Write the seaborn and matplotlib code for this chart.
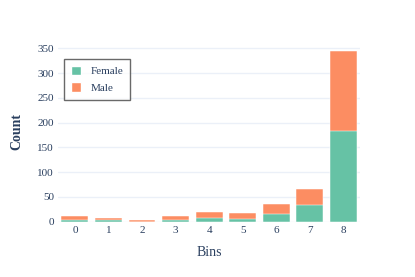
import matplotlib
matplotlib.use("Agg")
import matplotlib.pyplot as plt
import seaborn as sns
import pandas as pd
from matplotlib.patches import Patch

bins = ["0", "1", "2", "3", "4", "5", "6", "7", "8"]
female = [4, 3, 0, 4, 7, 6, 15, 34, 183]
male = [7, 5, 3, 8, 13, 11, 20, 32, 162]

total = [f + m for f, m in zip(female, male)]
df = pd.DataFrame({"Bins": bins, "Female": female, "Total": total})

sns.set_theme(style="white")
plt.rcParams["font.family"] = ["Liberation Serif", "DejaVu Serif"]

text_c = "#2a3f5f"
green = "#66c2a5"
orange = "#fc8d62"

fig = plt.figure(figsize=(4.15, 2.77), dpi=100)
ax = fig.add_axes([0.14, 0.2, 0.728, 0.649])

sns.barplot(data=df, x="Bins", y="Total", color=orange, saturation=1,
            width=0.8, edgecolor="white", linewidth=0.35, ax=ax, zorder=3)
sns.barplot(data=df, x="Bins", y="Female", color=green, saturation=1,
            width=0.8, edgecolor="white", linewidth=0.35, ax=ax, zorder=4)

ax.set_xlim(-0.5, 8.5)
ax.set_ylim(0, 363)
ax.set_yticks([0, 50, 100, 150, 200, 250, 300, 350])
ax.grid(axis="y", color="#ebf0f8", linewidth=1, zorder=0)
ax.set_axisbelow(True)
for s in ax.spines.values():
    s.set_visible(False)
ax.tick_params(axis="both", length=0, labelsize=8, colors=text_c, pad=3)

ax.set_xlabel("Bins", fontsize=10, color=text_c, labelpad=8)
ax.set_ylabel("Count", fontsize=10, color=text_c, fontweight="bold", labelpad=10)

handles = [Patch(facecolor=green, label="Female"), Patch(facecolor=orange, label="Male")]
leg = ax.legend(handles=handles, loc="upper left", bbox_to_anchor=(0.02, 0.905),
                fontsize=8, frameon=True, fancybox=False, handlelength=0.95,
                handleheight=0.95, borderpad=0.6, labelspacing=0.55, handletextpad=0.8,
                borderaxespad=0)
leg.get_frame().set_edgecolor("#444444")
leg.get_frame().set_linewidth(1.0)
for t in leg.get_texts():
    t.set_color(text_c)

fig.savefig("out.png", dpi=100)
